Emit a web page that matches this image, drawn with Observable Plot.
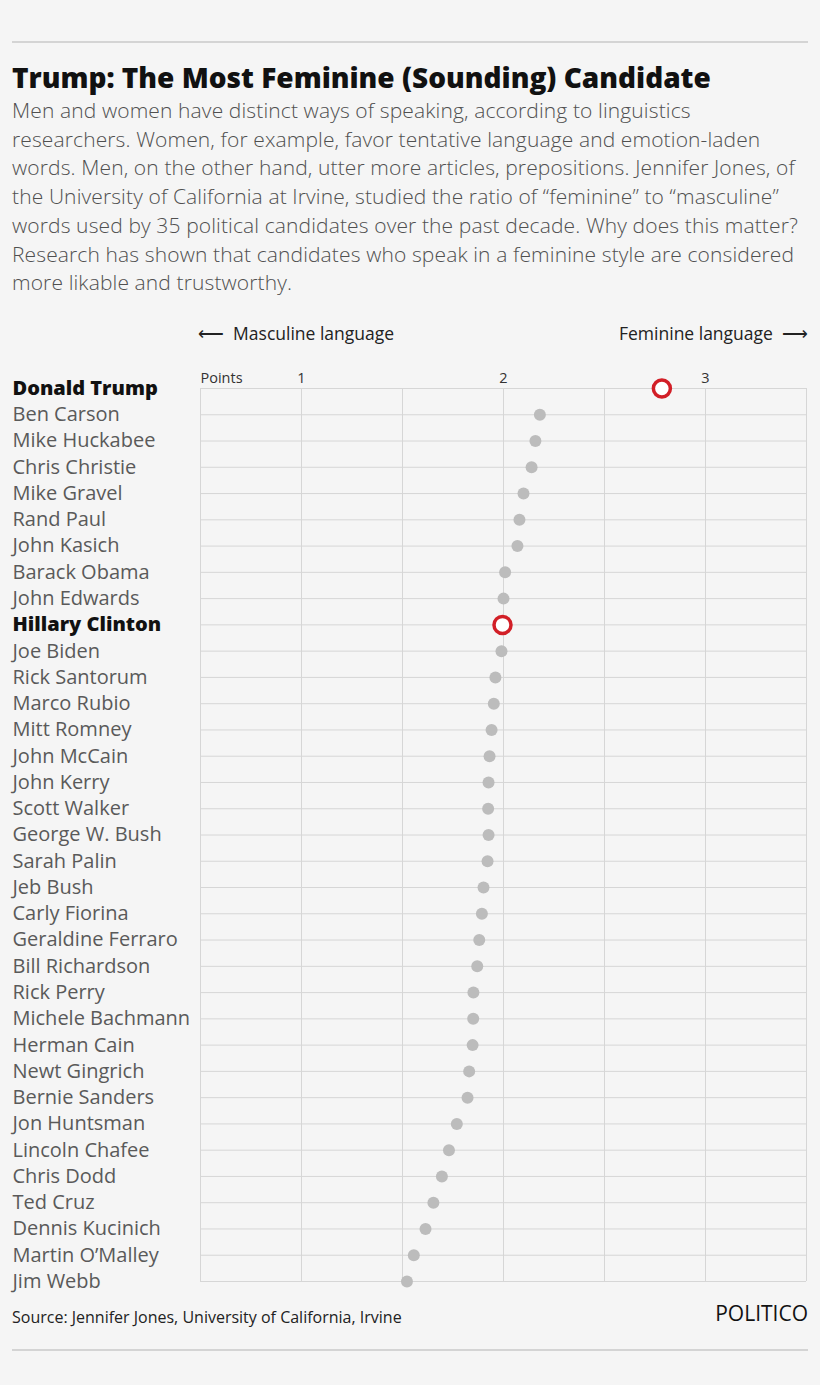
<!DOCTYPE html>
<html>
<head>
<meta charset="utf-8">
<script src="https://cdn.jsdelivr.net/npm/d3@7"></script>
<script src="https://cdn.jsdelivr.net/npm/@observablehq/plot@0.6"></script>
<style>
  html, body { margin: 0; padding: 0; background: #f5f5f5; }
  body { width: 820px; height: 1385px; position: relative; font-family: "Open Sans", Lato, sans-serif; overflow: hidden; }
  .abs { position: absolute; }
  .rule { left: 12px; width: 796px; height: 2px; background: #d4d4d4; }
  #title { left: 12px; top: 58px; font-size: 28px; font-weight: 800; color: #111; white-space: nowrap; }
  #subtitle { left: 12px; top: 96px; font-size: 21px; font-weight: 300; line-height: 28.7px; color: #505050; white-space: nowrap; letter-spacing: 0.12px; }
  .dir { top: 321px; font-size: 17.5px; color: #222; white-space: nowrap; }
  #chart { left: 0; top: 360px; }
  #source { left: 12px; top: 1306px; font-size: 16px; color: #222; }
  #brand { right: 12px; top: 1299px; font-size: 21px; color: #111; }
</style>
</head>
<body>
<div class="abs rule" style="top:41px"></div>
<div id="title" class="abs">Trump: The Most Feminine (Sounding) Candidate</div>
<div id="subtitle" class="abs">Men and women have distinct ways of speaking, according to linguistics<br>researchers. Women, for example, favor tentative language and emotion-laden<br>words. Men, on the other hand, utter more articles, prepositions. Jennifer Jones, of<br>the University of California at Irvine, studied the ratio of “feminine” to “masculine”<br>words used by 35 political candidates over the past decade. Why does this matter?<br>Research has shown that candidates who speak in a feminine style are considered<br>more likable and trustworthy.</div>
<div class="abs dir" style="left:198px">⟵&nbsp; Masculine language</div>
<div class="abs dir" style="right:12px">Feminine language &nbsp;⟶</div>
<div id="chart" class="abs"></div>
<div id="source" class="abs">Source: Jennifer Jones, University of California, Irvine</div>
<div id="brand" class="abs">POLITICO</div>
<div class="abs rule" style="top:1349px"></div>
<script>
const candidates = ["Donald Trump","Ben Carson","Mike Huckabee","Chris Christie","Mike Gravel","Rand Paul","John Kasich","Barack Obama","John Edwards","Hillary Clinton","Joe Biden","Rick Santorum","Marco Rubio","Mitt Romney","John McCain","John Kerry","Scott Walker","George W. Bush","Sarah Palin","Jeb Bush","Carly Fiorina","Geraldine Ferraro","Bill Richardson","Rick Perry","Michele Bachmann","Herman Cain","Newt Gingrich","Bernie Sanders","Jon Huntsman","Lincoln Chafee","Chris Dodd","Ted Cruz","Dennis Kucinich","Martin O’Malley","Jim Webb"];
const points = [2.784,2.180,2.158,2.139,2.099,2.079,2.069,2.008,2.000,1.995,1.990,1.960,1.952,1.941,1.931,1.926,1.924,1.926,1.921,1.901,1.893,1.880,1.870,1.851,1.850,1.847,1.830,1.822,1.769,1.730,1.695,1.653,1.614,1.556,1.522];
const highlighted = ["Donald Trump","Hillary Clinton"];
const tickLabels = [1, 2, 3];
const gridValues = [0.5, 1, 1.5, 2, 2.5, 3, 3.5];

const rows = candidates.map((name, i) => ({name, value: points[i], hi: highlighted.includes(name)}));

const chart = Plot.plot({
  width: 820,
  height: 937,
  marginLeft: 200,
  marginRight: 14,
  marginTop: 28,
  marginBottom: 16,
  style: {background: "transparent", fontFamily: "'Open Sans', Lato, sans-serif", overflow: "visible"},
  x: {domain: [0.5, 3.5]},
  y: {type: "point", domain: candidates, padding: 0, round: false},
  marks: [
    Plot.ruleX(gridValues, {stroke: "#d6d6d6", strokeWidth: 1}),
    Plot.ruleY(candidates, {y: d => d, stroke: "#d6d6d6", strokeWidth: 1}),
    Plot.axisX(tickLabels, {anchor: "top", tickSize: 0, tickPadding: 6, fontSize: 14.5, fill: "#333", label: null, tickFormat: d => String(d)}),
    Plot.axisY({ticks: [], label: null}),
    Plot.text(["Points"], {frameAnchor: "top-left", dy: -6, lineAnchor: "bottom", textAnchor: "start", fontSize: 14.5, fill: "#333"}),
    Plot.dot(rows.filter(d => !d.hi), {x: "value", y: "name", r: 6, fill: "#bcbcbc"}),
    Plot.dot(rows.filter(d => d.hi), {x: "value", y: "name", r: 8.5, fill: "#fff", stroke: "#d21f27", strokeWidth: 3.5}),
    Plot.text(rows.filter(d => !d.hi), {y: "name", text: "name", frameAnchor: "left", dx: -188, textAnchor: "start", fontSize: 20, fill: "#5a5a5a"}),
    Plot.text(rows.filter(d => d.hi), {y: "name", text: "name", frameAnchor: "left", dx: -188, textAnchor: "start", fontSize: 20, fontWeight: 800, fill: "#111"})
  ]
});
document.getElementById("chart").appendChild(chart);
</script>
</body>
</html>
